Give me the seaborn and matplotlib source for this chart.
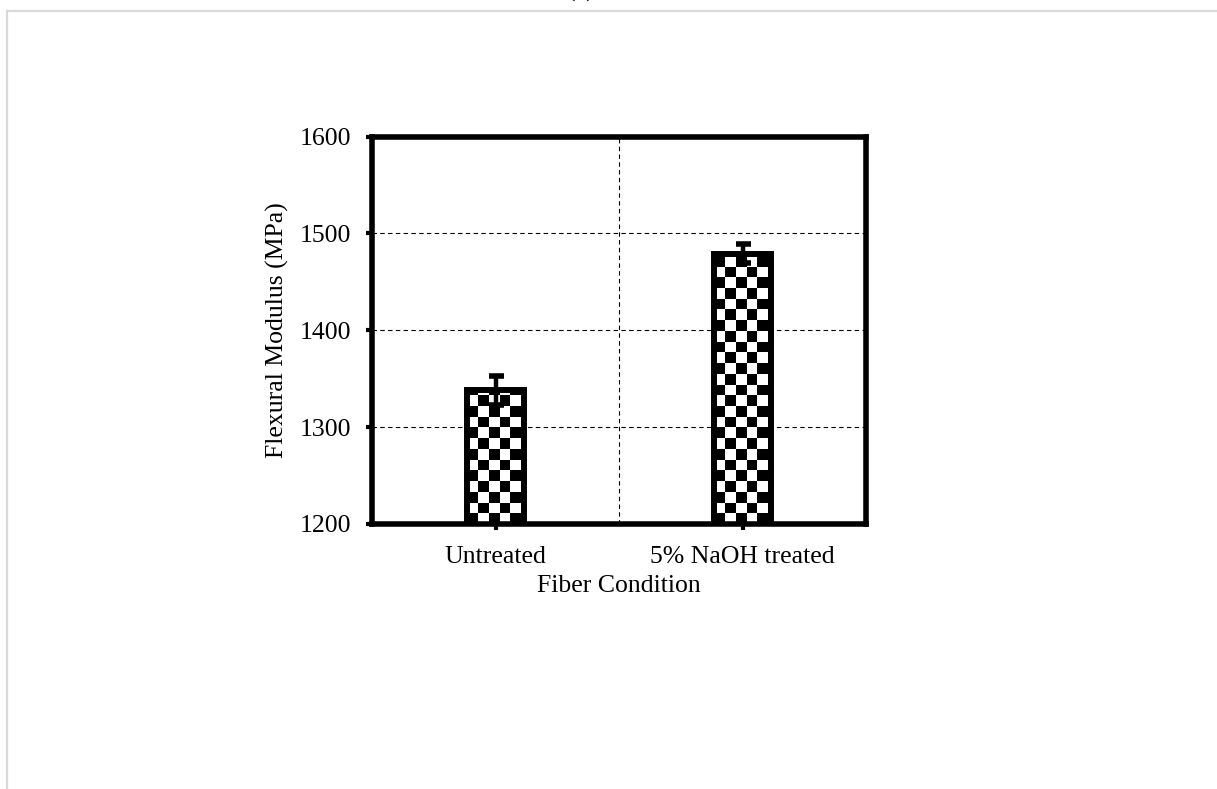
import numpy as np
import pandas as pd
import matplotlib
matplotlib.use("Agg")
import matplotlib.pyplot as plt
from matplotlib.lines import Line2D
from matplotlib.patches import Rectangle
import seaborn as sns

# ---- data ----
categories = ["Untreated", "5% NaOH treated"]
modulus = [1338, 1479]
errors = [15, 10]
y_ticks = [1200, 1300, 1400, 1500, 1600]

sns.set_theme(style="white")
plt.rcParams["font.family"] = ["Liberation Serif", "DejaVu Serif"]

df = pd.DataFrame({"cond": categories, "mod": modulus})

fig = plt.figure(figsize=(12.17, 7.89), dpi=100)
ax = fig.add_axes([372 / 1217, 1 - 524 / 789, 494 / 1217, 387.5 / 789])

sns.barplot(data=df, x="cond", y="mod", ax=ax, width=0.227, color="white",
            edgecolor="black", linewidth=4.3, errorbar=None)

ax.set_ylim(1200, 1600)
ax.set_xlim(-0.5, 1.5)

# checkerboard fill clipped to each bar
fig.canvas.draw()
px_x = ax.transData.transform([(1, 0)])[0][0] - ax.transData.transform([(0, 0)])[0][0]
px_y = ax.transData.transform([(0, 100)])[0][1] - ax.transData.transform([(0, 0)])[0][1]
cell_px = 10.7
cx = cell_px / px_x
cy = cell_px * 100 / px_y
ybase = y_ticks[0]
for patch in list(ax.patches):
    x0 = patch.get_x()
    w = patch.get_width()
    top = patch.get_y() + patch.get_height()
    h = top - ybase
    nx = int(np.ceil(w / cx)) + 1
    ny = int(np.ceil(h / cy)) + 1
    ii, jj = np.indices((ny, nx))
    board = ((ii + jj) % 2).astype(float)
    im = ax.imshow(board, cmap="gray", vmin=0, vmax=1, interpolation="nearest",
                   origin="lower", extent=(x0, x0 + nx * cx, ybase, ybase + ny * cy),
                   aspect="auto", zorder=0.8)
    clip = Rectangle((x0, ybase), w, h, transform=ax.transData)
    im.set_clip_path(clip)
    patch.set_facecolor("none")
    patch.set_zorder(2)
ax.set_xlim(-0.5, 1.5)
ax.set_ylim(1200, 1600)

ax.errorbar(range(len(categories)), modulus, yerr=errors, fmt="none",
            ecolor="black", elinewidth=3.2, capsize=5.4, capthick=4.0, zorder=3)

# spines / ticks / grid
for s in ax.spines.values():
    s.set_visible(True)
    s.set_color("black")
    s.set_linewidth(4.0)
    s.set_zorder(4)
ax.set_yticks(y_ticks)
ax.set_xticks(range(len(categories)))
ax.set_xticklabels(categories)
ax.set_xticks([0.5], minor=True)
ax.tick_params(axis="both", which="major", direction="out", length=4, width=3,
               color="black", labelsize=18.5, labelcolor="black", pad=11,
               left=True, bottom=True)
ax.tick_params(axis="x", which="major", pad=12)
ax.tick_params(axis="x", which="minor", length=0)
ax.set_axisbelow(True)
ax.grid(False)
ax.yaxis.grid(True, which="major", color="black", linestyle=(0, (4, 3)), linewidth=0.8)
ax.xaxis.grid(True, which="minor", color="black", linestyle=(0, (4, 3)), linewidth=0.8)

ax.set_xlabel("Fiber Condition", fontsize=18.5, color="black", labelpad=5)
ax.set_ylabel("Flexural Modulus (MPa)", fontsize=18.5, color="black", labelpad=8)

# partially visible panel label at top
fig.text(581 / 1217, 1 + 3 / 789, "(a)", ha="center", va="baseline",
         fontsize=18.5, color="black")

# light gray frame lines
fig.add_artist(Line2D([7 / 1217, 1], [1 - 11 / 789, 1 - 11 / 789],
                      transform=fig.transFigure, color="#d9d9d9", linewidth=1.6))
fig.add_artist(Line2D([7 / 1217, 7 / 1217], [0, 1 - 11 / 789],
                      transform=fig.transFigure, color="#d9d9d9", linewidth=1.6))

fig.savefig("out.png", dpi=100, facecolor="white")
